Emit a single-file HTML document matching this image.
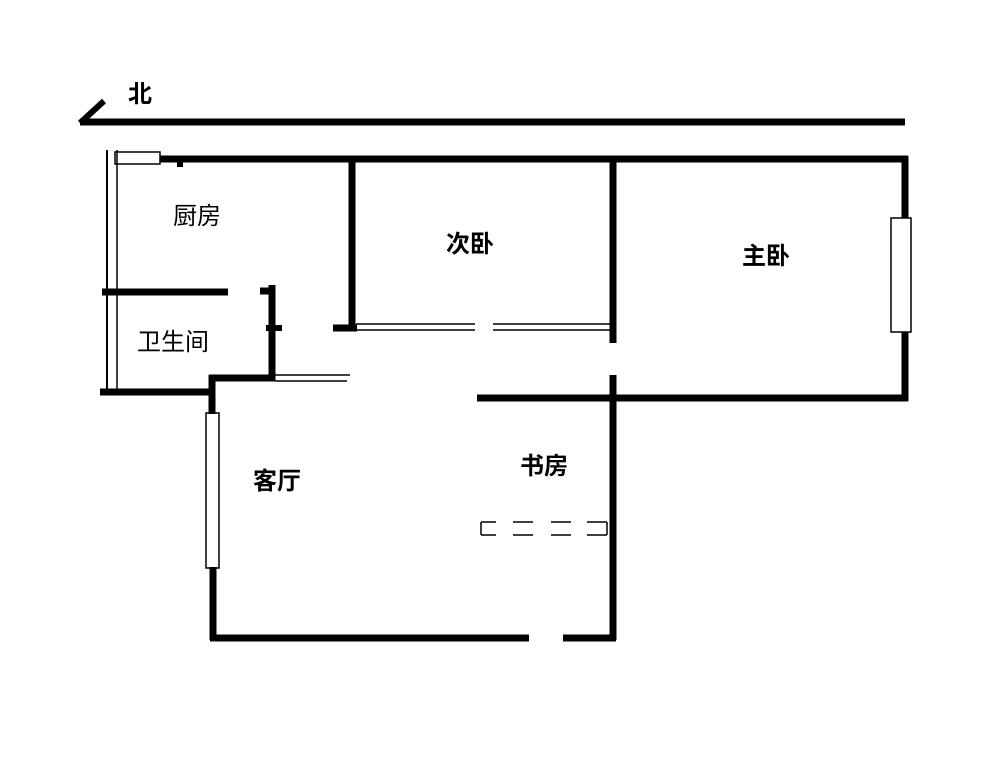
<!DOCTYPE html>
<html><head><meta charset="utf-8"><style>
body{margin:0;background:#fff;}
text{font-family:"Liberation Sans","Noto Sans CJK SC",sans-serif;fill:#000;}
</style></head><body>
<svg width="1000" height="771" viewBox="0 0 1000 771" xmlns="http://www.w3.org/2000/svg">
<rect width="1000" height="771" fill="#fff"/>
<g stroke="#000" fill="none" stroke-linecap="butt">
<line x1="80" y1="122" x2="905" y2="122" stroke-width="7"/>
<line x1="80" y1="123" x2="104" y2="101" stroke-width="6"/>
<line x1="160" y1="159" x2="908" y2="159" stroke-width="7"/>
<rect x="115" y="152" width="45" height="12" stroke-width="1.5"/>
<line x1="180" y1="158" x2="180" y2="167" stroke-width="6"/>
<line x1="107" y1="150" x2="107" y2="395" stroke-width="2"/>
<line x1="117" y1="150" x2="117" y2="392" stroke-width="1.5"/>
<line x1="905" y1="156" x2="905" y2="218" stroke-width="7"/>
<rect x="891" y="218" width="20" height="114" stroke-width="1.5"/>
<line x1="905" y1="332" x2="905" y2="401" stroke-width="7"/>
<line x1="352" y1="159" x2="352" y2="331" stroke-width="7"/>
<line x1="333" y1="328" x2="357" y2="328" stroke-width="7"/>
<line x1="356" y1="324" x2="475" y2="324" stroke-width="1.5"/>
<line x1="356" y1="330" x2="475" y2="330" stroke-width="1.5"/>
<line x1="493" y1="324" x2="612" y2="324" stroke-width="1.5"/>
<line x1="493" y1="330" x2="612" y2="330" stroke-width="1.5"/>
<line x1="613" y1="159" x2="613" y2="343" stroke-width="7"/>
<line x1="613" y1="375" x2="613" y2="640" stroke-width="7"/>
<line x1="477" y1="398" x2="908" y2="398" stroke-width="7"/>
<line x1="102" y1="292" x2="228" y2="292" stroke-width="7"/>
<line x1="272" y1="285" x2="272" y2="381" stroke-width="7"/>
<line x1="260" y1="291" x2="272" y2="291" stroke-width="7"/>
<line x1="266" y1="328" x2="282" y2="328" stroke-width="6"/>
<line x1="209" y1="378" x2="275" y2="378" stroke-width="7"/>
<line x1="275" y1="375" x2="350" y2="375" stroke-width="1.5"/>
<line x1="275" y1="381" x2="347" y2="381" stroke-width="1.5"/>
<line x1="100" y1="392" x2="212" y2="392" stroke-width="7"/>
<line x1="212" y1="375" x2="212" y2="414" stroke-width="7"/>
<rect x="206" y="413" width="13" height="155" stroke-width="1.5"/>
<line x1="213" y1="567" x2="213" y2="640" stroke-width="7"/>
<line x1="210" y1="638" x2="529" y2="638" stroke-width="7"/>
<line x1="563" y1="638" x2="616" y2="638" stroke-width="7"/>
<g stroke-width="1.5">
<line x1="481" y1="522" x2="481" y2="535"/>
<line x1="607" y1="522" x2="607" y2="535"/>
<line x1="481" y1="522" x2="496" y2="522"/><line x1="481" y1="535" x2="496" y2="535"/>
<line x1="513" y1="522" x2="533" y2="522"/><line x1="513" y1="535" x2="533" y2="535"/>
<line x1="551" y1="522" x2="571" y2="522"/><line x1="551" y1="535" x2="571" y2="535"/>
<line x1="587" y1="522" x2="607" y2="522"/><line x1="587" y1="535" x2="607" y2="535"/>
</g>
</g>
<g font-size="24">
<text x="128" y="102" font-weight="bold">北</text>
<text x="173" y="224">厨房</text>
<text x="446" y="252" font-weight="bold">次卧</text>
<text x="742" y="264" font-weight="bold">主卧</text>
<text x="137" y="350">卫生间</text>
<text x="253" y="489" font-weight="bold">客厅</text>
<text x="520" y="474" font-weight="bold">书房</text>
</g>
</svg>
</body></html>
